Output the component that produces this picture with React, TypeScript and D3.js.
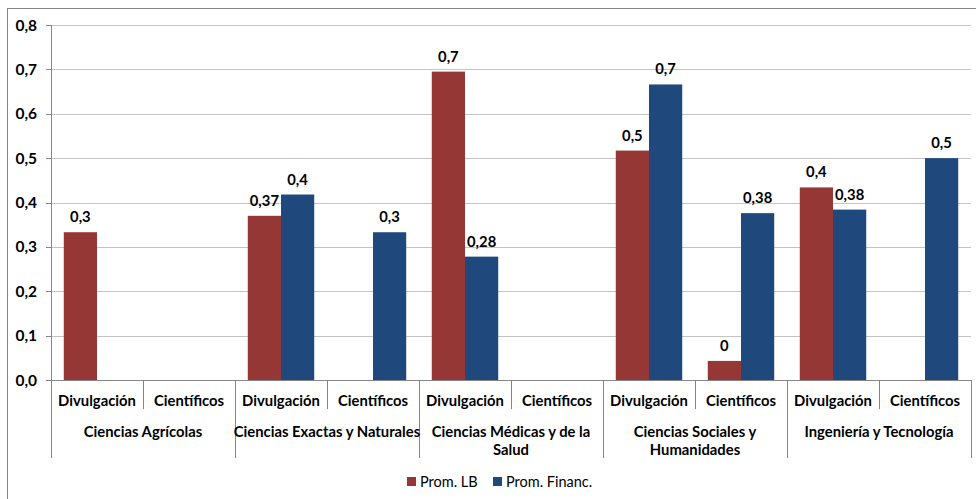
import React from "react";
import * as d3 from "d3";

const groups: string[][] = [
  ["Ciencias Agrícolas"],
  ["Ciencias Exactas y Naturales"],
  ["Ciencias Médicas y de la", "Salud"],
  ["Ciencias Sociales y", "Humanidades"],
  ["Ingeniería y Tecnología"],
];
const subcats = ["Divulgación", "Científicos"];
const seriesNames = ["Prom. LB", "Prom. Financ."];
const seriesColors = ["#953735", "#1F497D"];
// values in order: group0-Div, group0-Cie, group1-Div, ...
const promLB: (number | null)[] = [0.333, null, 0.37, null, 0.695, null, 0.517, 0.043, 0.434, null];
const promFin: (number | null)[] = [null, null, 0.418, 0.333, 0.278, null, 0.666, 0.376, 0.384, 0.5];
const labelsLB: string[] = ["0,3", "", "0,37", "", "0,7", "", "0,5", "0", "0,4", ""];
const labelsFin: string[] = ["", "", "0,4", "0,3", "0,28", "", "0,7", "0,38", "0,38", "0,5"];
const yTicks = [0, 0.1, 0.2, 0.3, 0.4, 0.5, 0.6, 0.7, 0.8];

const FONT = "Lato, 'Liberation Sans', sans-serif";
const FS = 14.8;

export default function App() {
  const W = 976, H = 499;
  const left = 51, right = 971, top = 25, bottom = 380;
  const n = groups.length * subcats.length;
  const keys = d3.range(n).map(String);
  const x = d3.scaleBand<string>().domain(keys).range([left, right]).paddingInner(0).paddingOuter(0);
  const inner = d3.scaleBand<number>().domain([0, 1]).range([0, x.bandwidth()]).paddingInner(0).paddingOuter(20 / 52);
  const y = d3.scaleLinear().domain([0, 0.8]).range([bottom, top]);
  const series = [
    { vals: promLB, labels: labelsLB },
    { vals: promFin, labels: labelsFin },
  ];
  const fmt = (v: number) => d3.format(".1f")(v).replace(".", ",");
  const boundaries = d3.range(n + 1);

  return (
    <svg width={W} height={H} style={{ position: "absolute", left: 0, top: 0 }} fontFamily={FONT}>
      <rect x={0} y={0} width={W} height={H} fill="#fff" />
      <rect x={7.5} y={8.5} width={1000} height={600} fill="none" stroke="#868686" strokeWidth={1} />
      {yTicks.map((t) => (
        <g key={t}>
          {t > 0 && (
            <line x1={left} x2={right} y1={Math.round(y(t)) + 0.5} y2={Math.round(y(t)) + 0.5} stroke="#c4c4c4" strokeWidth={1} />
          )}
          <line x1={left - 5} x2={left} y1={Math.round(y(t)) + 0.5} y2={Math.round(y(t)) + 0.5} stroke="#868686" />
          <text x={37} y={y(t) + 5.5} textAnchor="end" fontSize={15.5} fontWeight="bold" fill="#000">
            {fmt(t)}
          </text>
        </g>
      ))}
      {series.map((s, si) =>
        s.vals.map((v, i) =>
          v == null ? null : (
            <rect
              key={`b${si}-${i}`}
              x={(x(String(i)) as number) + (inner(si) as number)}
              y={y(v)}
              width={inner.bandwidth()}
              height={bottom - y(v)}
              fill={seriesColors[si]}
            />
          )
        )
      )}
      {series.map((s, si) =>
        s.vals.map((v, i) =>
          v == null || !s.labels[i] ? null : (
            <text
              key={`l${si}-${i}`}
              x={(x(String(i)) as number) + (inner(si) as number) + inner.bandwidth() / 2}
              y={y(v) - 10}
              textAnchor="middle"
              fontSize={FS}
              fontWeight="bold"
              fill="#000"
            >
              {s.labels[i]}
            </text>
          )
        )
      )}
      <line x1={left + 0.5} x2={left + 0.5} y1={top} y2={bottom} stroke="#868686" />
      <line x1={left} x2={right} y1={bottom + 0.5} y2={bottom + 0.5} stroke="#868686" />
      {boundaries.map((b) => {
        const bx = Math.round(left + b * x.bandwidth()) + 0.5;
        const long = b % 2 === 0;
        return <line key={`d${b}`} x1={bx} x2={bx} y1={bottom} y2={long ? 458 : 409} stroke="#868686" />;
      })}
      {keys.map((k, i) => (
        <text
          key={`s${i}`}
          x={(x(k) as number) + x.bandwidth() / 2}
          y={405.5}
          textAnchor="middle"
          fontSize={FS}
          fontWeight="bold"
          fill="#000"
        >
          {subcats[i % 2]}
        </text>
      ))}
      {groups.map((g, gi) => (
        <text
          key={`g${gi}`}
          textAnchor="middle"
          fontSize={FS}
          fontWeight="bold"
          fill="#000"
        >
          {g.map((line, li) => (
            <tspan key={li} x={left + (gi * 2 + 1) * x.bandwidth()} y={436.5 + li * 18}>
              {line}
            </tspan>
          ))}
        </text>
      ))}
      {seriesNames.map((name, i) => {
        const lx = i === 0 ? 407 : 493;
        return (
          <g key={name}>
            <rect x={lx} y={477} width={9} height={9} fill={seriesColors[i]} />
            <text x={lx + 13} y={486.5} fontSize={14.5} fill="#000">
              {name}
            </text>
          </g>
        );
      })}
    </svg>
  );
}
